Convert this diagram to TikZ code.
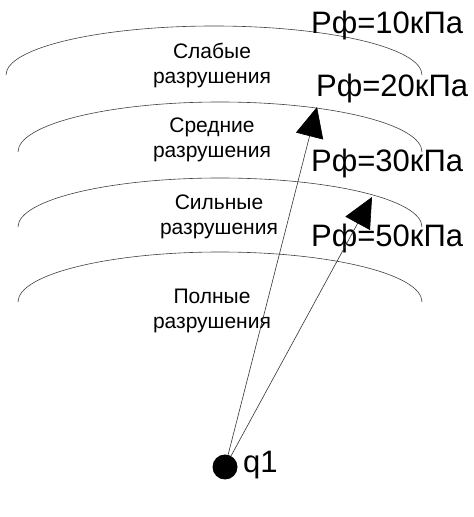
\documentclass[tikz,border=0pt]{standalone}
\usepackage{fontspec}
\setmainfont{Liberation Sans}
\usetikzlibrary{arrows.meta}
\begin{document}
\begin{tikzpicture}[x=1pt,y=1pt,
  zone/.style={line width=0.6pt, draw=black!75},
  zonetext/.style={font=\fontsize{21}{25}\selectfont, align=center, inner sep=0pt},
  plabel/.style={font=\fontsize{31}{34}\selectfont, anchor=west, inner sep=0pt},
  ray/.style={line width=0.6pt, draw=black!80, -{Triangle[length=30pt,width=28pt,fill=black,color=black]}}]
\useasboundingbox (0,0) rectangle (474,517);
% zones
\draw[zone] (6,442) arc[start angle=180,end angle=0,x radius=208,y radius=49];
\draw[zone] (18,365) arc[start angle=180,end angle=0,x radius=202,y radius=50];
\draw[zone] (18,290) arc[start angle=180,end angle=0,x radius=202,y radius=49];
\draw[zone] (18,215) arc[start angle=180,end angle=0,x radius=202,y radius=50];
% zone texts
\node[zonetext] (t1) at (212,452) {Слабые\\разрушения};
\node[zonetext] (t2) at (212,377) {Средние\\разрушения};
\node[zonetext] (t3) at (219,300) {Сильные\\разрушения};
\node[zonetext] (t4) at (212,206) {Полные\\разрушения};
% pressure labels
\node[plabel] (p1) at (311,492) {Рф=10кПа};
\node[plabel] (p2) at (316,429) {Рф=20кПа};
\node[plabel] (p3) at (311,354) {Рф=30кПа};
\node[plabel] (p4) at (311,279) {Рф=50кПа};
% source
\node[circle, fill=black, minimum size=25pt, inner sep=0pt] (q) at (225,50) {};
\node[font=\fontsize{31}{34}\selectfont, anchor=west, inner sep=0pt] (ql) at (243,52) {q1};
% rays
\coordinate (e1) at (317,410);
\coordinate (e2) at (372,320);
\draw[ray] (q) -- (e1);
\draw[ray] (q) -- (e2);
\end{tikzpicture}
\end{document}
